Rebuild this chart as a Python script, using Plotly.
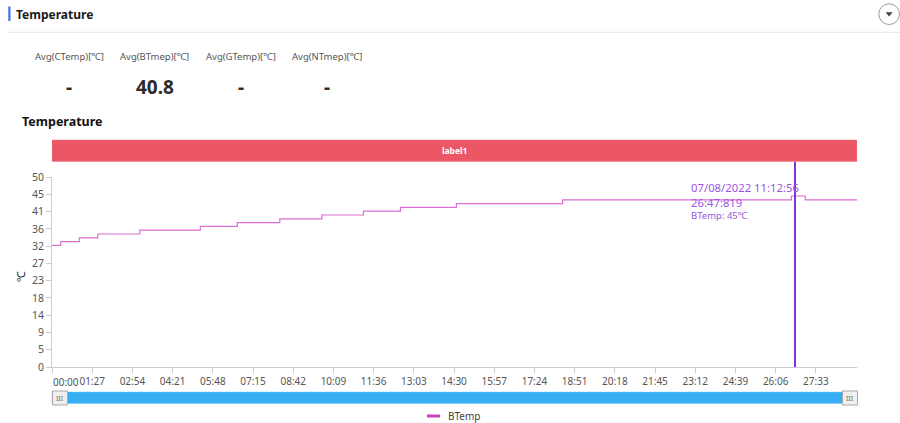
import plotly.graph_objects as go

W, H = 900, 423

# ---- data ----
step_times = [0, 19, 59, 99, 190, 321, 401, 493, 584, 674, 754, 875, 1105, 1600, 1630, 1742]
step_vals = [32, 33, 34, 35, 36, 37, 38, 39, 40, 41, 42, 43, 44, 45, 44, 44]
x_tick_secs = [i * 87 for i in range(20)]
x_tick_labels = ["00:00", "01:27", "02:54", "04:21", "05:48", "07:15", "08:42", "10:09", "11:36",
                 "13:03", "14:30", "15:57", "17:24", "18:51", "20:18", "21:45", "23:12", "24:39",
                 "26:06", "27:33"]
y_tick_vals = [k * 50 / 11 for k in range(12)]
y_tick_labels = ["0", "5", "9", "14", "18", "23", "27", "32", "36", "41", "45", "50"]
stat_labels = ["Avg(CTemp)[℃]", "Avg(BTmep)[℃]", "Avg(GTemp)[℃]", "Avg(NTmep)[℃]"]
stat_values = ["-", "40.8", "-", "-"]
cursor_sec = 1607.819
tooltip_lines = ["07/08/2022 11:12:56", "26:47:819", "BTemp: 45℃"]
x_max = 1742

FONT = "Noto Sans, Open Sans, sans-serif"


def px(x):
    return x / W


def py(y):
    return 1 - y / H


fig = go.Figure()
fig.add_trace(go.Scatter(
    x=step_times, y=step_vals, mode="lines", line=dict(color="#dc6fd4", width=1.2, shape="hv"),
    name="BTemp", showlegend=False, hoverinfo="skip"))

shapes = []
ann = []

# header
shapes.append(dict(type="rect", xref="paper", yref="paper", x0=px(8.3), x1=px(10.5), y0=py(21), y1=py(6.5),
                   fillcolor="#3f6ff2", line=dict(width=0)))
ann.append(dict(text="<b>Temperature</b>", x=px(14), y=py(14.5), xref="paper", yref="paper",
                xanchor="left", yanchor="middle", showarrow=False, font=dict(size=12, color="#1a1a1a", family=FONT)))
shapes.append(dict(type="line", xref="paper", yref="paper", x0=px(8), x1=px(900), y0=py(32.3), y1=py(32.3),
                   line=dict(color="#e3e6f0", width=1)))
# collapse button
shapes.append(dict(type="circle", xref="paper", yref="paper", x0=px(878.8), x1=px(899.5), y0=py(24.5), y1=py(3.8),
                   line=dict(color="#9a9aa6", width=1), fillcolor="white"))
shapes.append(dict(type="path", xref="paper", yref="paper",
                   path=f"M {px(885.6)} {py(12.3)} L {px(892.6)} {py(12.3)} L {px(889.1)} {py(16.6)} Z",
                   fillcolor="#444", line=dict(width=0)))

# stats
for cx, lab, val in zip([69.3, 154.7, 240.7, 327.3], stat_labels, stat_values):
    ann.append(dict(text=lab, x=px(cx), y=py(57), xref="paper", yref="paper", xanchor="center", yanchor="middle",
                    showarrow=False, font=dict(size=9.5, color="#555", family=FONT)))
    ann.append(dict(text=f"<b>{val}</b>", x=px(cx), y=py(87), xref="paper", yref="paper", xanchor="center",
                    yanchor="middle", showarrow=False, font=dict(size=19, color="#2b2b2b", family=FONT)))

# chart title
ann.append(dict(text="<b>Temperature</b>", x=px(20), y=py(122), xref="paper", yref="paper", xanchor="left",
                yanchor="middle", showarrow=False, font=dict(size=12.5, color="#111", family=FONT)))

# label band
shapes.append(dict(type="rect", xref="x", yref="paper", x0=0, x1=x_max, y0=py(161.5), y1=py(140),
                   fillcolor="#ec5766", line=dict(color="#f07a86", width=0.5)))
ann.append(dict(text="<b>label1</b>", x=x_max / 2, y=py(151), xref="x", yref="paper", xanchor="center",
                yanchor="middle", showarrow=False, font=dict(size=8.5, color="white", family=FONT)))

# cursor line and tooltip
shapes.append(dict(type="line", xref="x", yref="paper", x0=cursor_sec, x1=cursor_sec, y0=py(367), y1=py(162),
                   line=dict(color="#7d33d6", width=2)))
ann.append(dict(text=tooltip_lines[0], x=px(689), y=py(187.5), xref="paper", yref="paper", xanchor="left",
                yanchor="middle", showarrow=False, font=dict(size=11.3, color="#9b55e0", family=FONT)))
ann.append(dict(text=tooltip_lines[1], x=px(689), y=py(202.5), xref="paper", yref="paper", xanchor="left",
                yanchor="middle", showarrow=False, font=dict(size=11.3, color="#9b55e0", family=FONT)))
ann.append(dict(text=tooltip_lines[2], x=px(689), y=py(216), xref="paper", yref="paper", xanchor="left",
                yanchor="middle", showarrow=False, font=dict(size=9.5, color="#9b55e0", family=FONT)))

# y axis title
ann.append(dict(text="℃", x=px(20), y=py(277), xref="paper", yref="paper", xanchor="center", yanchor="middle",
                textangle=-90, showarrow=False, font=dict(size=11, color="#222", family=FONT)))

# first x tick label is left-aligned at the axis start
ann.append(dict(text=x_tick_labels[0], x=0, y=py(381.5), xref="x", yref="paper", xanchor="left", yanchor="middle",
                showarrow=False, xshift=-1, font=dict(size=10, color="#555", family=FONT)))
shown_tick_labels = [""] + x_tick_labels[1:]

# slider
shapes.append(dict(type="rect", xref="paper", yref="paper", x0=px(52), x1=px(857), y0=py(403.5), y1=py(392),
                   fillcolor="#35aef4", line=dict(color="#7cc8f6", width=0.5)))
for hx in [52, 842]:
    shapes.append(dict(type="rect", xref="paper", yref="paper", x0=px(hx + 0.5), x1=px(hx + 15.5), y0=py(405),
                       y1=py(391), fillcolor="#efefef", line=dict(color="#a8a8a8", width=1)))
    ann.append(dict(text="III", x=px(hx + 8), y=py(398), xref="paper", yref="paper", xanchor="center",
                    yanchor="middle", showarrow=False, font=dict(size=7, color="#666", family=FONT)))

# legend
shapes.append(dict(type="line", xref="paper", yref="paper", x0=px(427), x1=px(440), y0=py(416), y1=py(416),
                   line=dict(color="#cc3fbe", width=3)))
ann.append(dict(text="BTemp", x=px(446), y=py(416), xref="paper", yref="paper", xanchor="left", yanchor="middle",
                showarrow=False, font=dict(size=10, color="#444", family=FONT)))

fig.update_layout(
    width=W, height=H, margin=dict(l=0, r=0, t=0, b=0),
    paper_bgcolor="white", plot_bgcolor="white",
    shapes=shapes, annotations=ann, showlegend=False,
    font=dict(family=FONT),
    xaxis=dict(domain=[52 / W, 857 / W], range=[0, x_max], tickvals=x_tick_secs, ticktext=shown_tick_labels,
               showgrid=False, zeroline=False, showline=True, linecolor="#c9ccd6", linewidth=1,
               ticks="outside", ticklen=5, tickcolor="#c9ccd6", automargin=False,
               tickfont=dict(size=10, color="#555", family=FONT)),
    yaxis=dict(domain=[1 - 367 / H, 1 - 177 / H], range=[0, 50], tickvals=y_tick_vals, ticktext=y_tick_labels,
               showgrid=False, zeroline=False, showline=True, linecolor="#c9ccd6", linewidth=1,
               ticks="outside", ticklen=5, tickcolor="#c9ccd6", automargin=False,
               tickfont=dict(size=10.5, color="#555", family=FONT)),
)

fig.write_html("out.html")
